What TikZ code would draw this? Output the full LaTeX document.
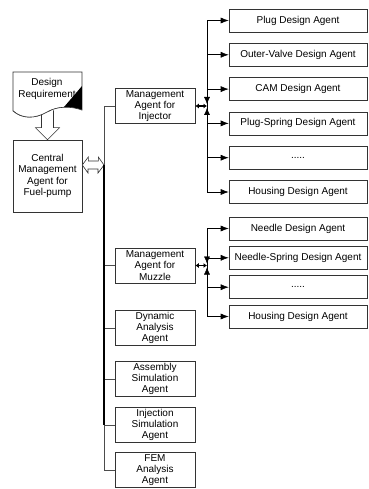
\documentclass[tikz,border=0pt]{standalone}
\usepackage{fontspec}
\setmainfont{Liberation Sans}
\usetikzlibrary{positioning,arrows.meta,shadows}

\begin{document}
\begin{tikzpicture}[x=1pt,y=-1pt,
  agent/.style={rectangle,draw=black!80,fill=white,line width=0.6pt,align=center,inner sep=0pt,
    drop shadow={shadow xshift=0.7pt,shadow yshift=-0.7pt,fill=black!75,opacity=1}},
  mgr/.style={agent,minimum width=80pt,minimum height=35pt},
  des/.style={agent,minimum width=138pt,minimum height=23pt},
  link/.style={draw=black!70,line width=0.6pt},
  hollow/.style={draw=black!80,fill=white,line width=0.6pt},
  feed/.style={-{Latex[length=8pt,width=6pt]},line width=0.6pt},
  tip/.style={-{Latex[length=7pt,width=6pt]}}]
\tikzstyle{every node}=[font=\fontsize{10}{11.3}\selectfont]
\useasboundingbox (0,0) rectangle (368,489);

% requirement document and central agent
\node[agent,minimum width=69pt,minimum height=72pt] (c) at (47.5,176) {Central\\Management\\Agent for\\Fuel-pump};
\draw[hollow] (c.north) -- ++(12,-12) -- ++(-6,0) -- ++(0,-18) -- ++(-12,0) -- ++(0,18) -- ++(-6,0) -- cycle;
\draw[hollow] (13,72) -- (82,72) -- (82,110) .. controls (70,106) and (58,106) .. (47,112)
  .. controls (35,119) and (22,119) .. (13,111) -- cycle;
\node[align=center] (r) at (47,89) {Design\\Requirement};
\begin{scope}
  \clip (13,72) -- (82,72) -- (82,110) .. controls (70,106) and (58,106) .. (47,112)
    .. controls (35,119) and (22,119) .. (13,111) -- cycle;
  \fill[black] (82,86) -- (82,125) -- (48.6,125) -- cycle;
\end{scope}
\draw[hollow,line width=0.6pt] (13,110.7) .. controls (22,119) and (35,119) .. (47,112)
  .. controls (58,106) and (70,106) .. (82,110);

% managers and analysis agents
\node[mgr] (mi) at (155,106) {Management\\Agent for\\Injector};
\node[mgr] (mm) at (155,265.5) {Management\\Agent for\\Muzzle};
\node[mgr] (dyn) at (155,328) {Dynamic\\Analysis\\Agent};
\node[mgr] (asm) at (155,379) {Assembly\\Simulation\\Agent};
\node[mgr] (inj) at (155,425) {Injection\\Simulation\\Agent};
\node[mgr] (fem) at (155,470) {FEM\\Analysis\\Agent};

% bus
\coordinate (bus) at (104,165);
\draw[hollow] (c.east |- bus) -- ++(6,-8) -- ++(0,4) -- ++(10,0) -- ++(0,-4) -- (bus)
  -- ++(-6,8) -- ++(0,-4) -- ++(-10,0) -- ++(0,4) -- cycle;
\draw[link] (mi.west) -| (bus);
\foreach \n in {mm,dyn,asm,inj}
  \draw[link] (bus |- \n.west) -- (\n.west);
\draw[link] (bus |- inj.west) |- (fem.west);
\draw[line width=2.4pt] (bus) -- (bus |- inj.west);

% design agents for injector
\node[des] (p1) at (298,20.5) {Plug Design Agent};
\node[des] (p2) at (298,54.8) {Outer-Valve Design Agent};
\node[des] (p3) at (298,89.1) {CAM Design Agent};
\node[des] (p4) at (298,123.4) {Plug-Spring Design Agent};
\node[des] (p5) at (298,157.7) {.....};
\node[des] (p6) at (298,192) {Housing Design Agent};
\coordinate (ji) at (207,106);
\foreach \n in {p1,p2,p3,p4,p5,p6}
  \draw[feed] (ji) |- (\n.west);
\draw[line width=1.5pt,{Latex[length=3.5pt,width=5pt]}-{Latex[length=3.5pt,width=5pt]}] (mi.east) -- (ji);
\draw[tip] ([yshift=9pt]ji) -- ([yshift=2pt]ji);
\draw[tip] ([yshift=-9pt]ji) -- ([yshift=-2pt]ji);

% design agents for muzzle
\node[des] (n1) at (298,228.5) {Needle Design Agent};
\node[des] (n2) at (298,257.8) {Needle-Spring Design Agent};
\node[des] (n3) at (298,287.2) {.....};
\node[des] (n4) at (298,316.5) {Housing Design Agent};
\coordinate (jm) at (207,265.5);
\foreach \n in {n1,n2,n3,n4}
  \draw[feed] (jm) |- (\n.west);
\draw[line width=1.5pt,{Latex[length=3.5pt,width=5pt]}-{Latex[length=3.5pt,width=5pt]}] (mm.east) -- (jm);
\draw[tip] ([yshift=9pt]jm) -- ([yshift=2pt]jm);
\draw[tip] ([yshift=-9pt]jm) -- ([yshift=-2pt]jm);
\end{tikzpicture}
\end{document}
